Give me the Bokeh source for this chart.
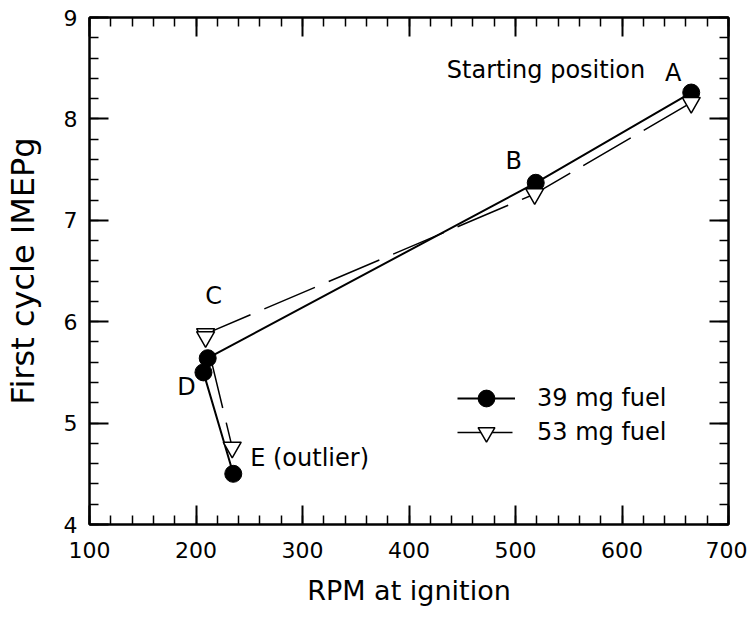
from bokeh.plotting import figure
from bokeh.models import LinearAxis, SingleIntervalTicker, Range1d, Legend, LegendItem
from bokeh.core.properties import value
from bokeh.embed import file_html
from bokeh.resources import INLINE

# ---- data ----
point_names = ["A", "B", "C", "D", "E"]
rpm_39 = [665, 519, 211, 207, 235]
imep_39 = [8.26, 7.37, 5.64, 5.50, 4.50]
rpm_53 = [665, 518, 209, 209, 234]
imep_53 = [8.16, 7.26, 5.88, 5.85, 4.76]
series_labels = ["39 mg fuel", "53 mg fuel"]
x_label = "RPM at ignition"
y_label = "First cycle IMEPg"

FONT = "DejaVu Sans"

p = figure(frame_width=639, frame_height=507,
           x_range=Range1d(100, 700), y_range=Range1d(4, 9),
           output_backend="svg", toolbar_location=None,
           min_border_left=89, min_border_right=19,
           min_border_top=17, min_border_bottom=94,
           x_axis_label=x_label, y_axis_label=y_label)
p.grid.visible = False
p.outline_line_color = "black"
p.outline_line_width = 2
p.background_fill_color = "white"
p.border_fill_color = "white"


def style_axis(ax, show_labels):
    ax.axis_line_color = "black"
    ax.axis_line_width = 2
    ax.major_tick_in = 19
    ax.major_tick_out = 0
    ax.minor_tick_in = 9
    ax.minor_tick_out = 0
    ax.major_tick_line_width = 2
    ax.minor_tick_line_width = 1.5
    ax.major_tick_line_color = "black"
    ax.minor_tick_line_color = "black"
    ax.major_label_text_font = FONT
    ax.axis_label_text_font = FONT
    ax.axis_label_text_font_style = "normal"
    ax.axis_label_text_color = "black"
    if show_labels:
        ax.major_label_text_font_size = "22px"
        ax.major_label_text_color = "black"
    else:
        ax.major_label_text_font_size = "1px"
        ax.major_label_text_color = None
        ax.major_label_standoff = 0


p.xaxis.ticker = SingleIntervalTicker(interval=100, num_minor_ticks=5)
p.yaxis.ticker = SingleIntervalTicker(interval=1, num_minor_ticks=5)
for ax in p.xaxis:
    style_axis(ax, True)
    ax.major_label_standoff = 17
    ax.axis_label_text_font_size = "27px"
    ax.axis_label_standoff = 14
for ax in p.yaxis:
    style_axis(ax, True)
    ax.major_label_standoff = 12
    ax.axis_label_text_font_size = "32px"
    ax.axis_label_standoff = 19

top = LinearAxis(ticker=SingleIntervalTicker(interval=100, num_minor_ticks=5))
style_axis(top, False)
p.add_layout(top, "above")
right = LinearAxis(ticker=SingleIntervalTicker(interval=1, num_minor_ticks=5))
style_axis(right, False)
p.add_layout(right, "right")

# ---- series ----
l39 = p.line(rpm_39, imep_39, line_color="black", line_width=2)
l53 = p.line(rpm_53, imep_53, line_color="black", line_width=1.5, line_dash="55 15")
s39 = p.scatter(rpm_39, imep_39, marker="circle", size=17,
                fill_color="black", line_color="black")
s53 = p.scatter(rpm_53, imep_53, marker="inverted_triangle", size=18,
                fill_color="white", line_color="black", line_width=1.5)


def make_legend(label, renderers, loc):
    lg = Legend(items=[LegendItem(label=label, renderers=renderers)],
                location=loc, glyph_width=58, glyph_height=42,
                label_standoff=22, padding=0, margin=0,
                border_line_color=None, background_fill_alpha=0,
                label_text_font=FONT, label_text_font_size="24px",
                label_text_color="black")
    p.add_layout(lg)


make_legend(series_labels[0], [l39, s39], (368, 105))
make_legend(series_labels[1], [l53, s53], (368, 71))


# ---- point annotations, anchored to data points with pixel offsets ----
def note(txt, x, y, xo, yo, align):
    p.text(x=[x], y=[y], text=[txt], x_offset=xo, y_offset=yo,
           text_align=align, text_baseline="alphabetic",
           text_font=value(FONT), text_font_size="24px", text_color="black")


note("Starting position", rpm_39[0], imep_39[0], -46, -23, "right")
note(point_names[0], rpm_39[0], imep_39[0], -18, -20, "center")
note(point_names[1], rpm_39[1], imep_39[1], -22, -22, "center")
note(point_names[2], rpm_53[2], imep_53[2], 8, -38, "center")
note(point_names[3], rpm_39[3], imep_39[3], -17, 15, "center")
note(point_names[4] + " (outlier)", rpm_53[4], imep_53[4], 18, 11, "left")

open("out.html", "w").write(file_html(p, INLINE))
